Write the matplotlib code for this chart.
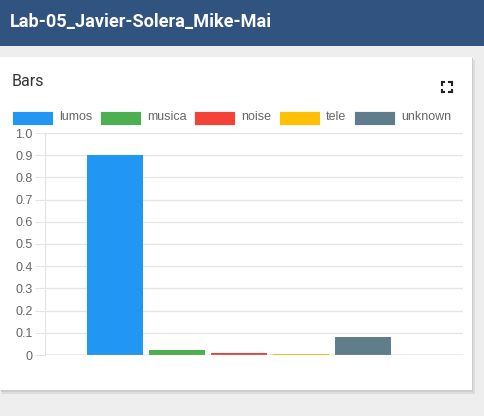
import numpy as np
import matplotlib
matplotlib.use("Agg")
import matplotlib.pyplot as plt
from matplotlib.patches import Rectangle
from matplotlib.lines import Line2D

# data
series = ["lumos", "musica", "noise", "tele", "unknown"]
values = [0.9, 0.022, 0.01, 0.004, 0.081]
colors = ["#2196f3", "#4caf50", "#f44336", "#ffc107", "#607d8b"]
yticks = [0, 0.1, 0.2, 0.3, 0.4, 0.5, 0.6, 0.7, 0.8, 0.9, 1.0]
ytick_labels = ["0", "0.1", "0.2", "0.3", "0.4", "0.5", "0.6", "0.7", "0.8", "0.9", "1.0"]
page_title = "Lab-05_Javier-Solera_Mike-Mai"
card_title = "Bars"

W, H = 485, 416
fig = plt.figure(figsize=(W / 100, H / 100), dpi=100)
fig.patch.set_facecolor("#eeeeee")


def fx(px):
    return px / W


def fy(py):
    return 1 - py / H


def rect(x0, y0, x1, y1, **kw):
    fig.add_artist(Rectangle((fx(x0), fy(y1)), fx(x1) - fx(x0), fy(y0) - fy(y1),
                             transform=fig.transFigure, **kw))


# header band
rect(0, 0, W, 46, facecolor="#30537f", edgecolor="none", zorder=0)
fig.text(fx(10), fy(22), page_title, color="white", fontsize=13.1, fontweight="bold",
         family="Roboto", va="center", ha="left")

# card with a soft shadow
rect(2, 60, 475, 394, facecolor="#dcdcdc", edgecolor="none", zorder=0)
rect(1, 58, 473, 392, facecolor="#cdcdcd", edgecolor="none", zorder=0)
rect(0, 57, 472, 390, facecolor="white", edgecolor="none", zorder=0)
fig.text(fx(12), fy(81), card_title, color="#333333", fontsize=11.5, family="Roboto",
         va="center", ha="left")

# expand icon (four corners)
ic = dict(color="#222222", lw=1.5, transform=fig.transFigure)
for (cx, cy, dx, dy) in [(442, 82, 1, 1), (452, 82, -1, 1), (442, 92, 1, -1), (452, 92, -1, -1)]:
    fig.add_artist(Line2D([fx(cx), fx(cx + 2.5 * dx)], [fy(cy), fy(cy)], **ic))
    fig.add_artist(Line2D([fx(cx), fx(cx)], [fy(cy), fy(cy + 2.5 * dy)], **ic))

# legend
leg_x = [12, 100, 194, 279, 354]
for lx, name, c in zip(leg_x, series, colors):
    rect(lx, 111, lx + 41, 125, facecolor=c, edgecolor="white", lw=0.6, zorder=2)
    fig.text(fx(lx + 47), fy(117.5), name, color="#666666", fontsize=9,
             family="Liberation Sans", va="center", ha="left")

# axes
ax = fig.add_axes([fx(45), fy(355), fx(463) - fx(45), fy(133) - fy(355)])
ax.set_facecolor("none")
x = np.arange(len(series))
ax.bar(x, values, width=0.9, color=colors, zorder=3)
ax.set_xlim(-1.13, 5.61)
ax.set_ylim(0, 1.0)
ax.set_yticks(yticks)
ax.set_yticklabels(ytick_labels, color="#666666", fontsize=9, family="Liberation Sans")
ax.set_xticks([])
for v in yticks[1:]:
    ax.axhline(v, color="#e4e4e4", lw=0.9, zorder=1)
ax.axhline(0, color="#a0a0a0", lw=1.0, zorder=4)
for s in ["top", "right", "bottom"]:
    ax.spines[s].set_visible(False)
ax.spines["left"].set_color("#e4e4e4")
ax.tick_params(axis="y", length=7, color="#e4e4e4", pad=2)

fig.savefig("out.png", dpi=100)
